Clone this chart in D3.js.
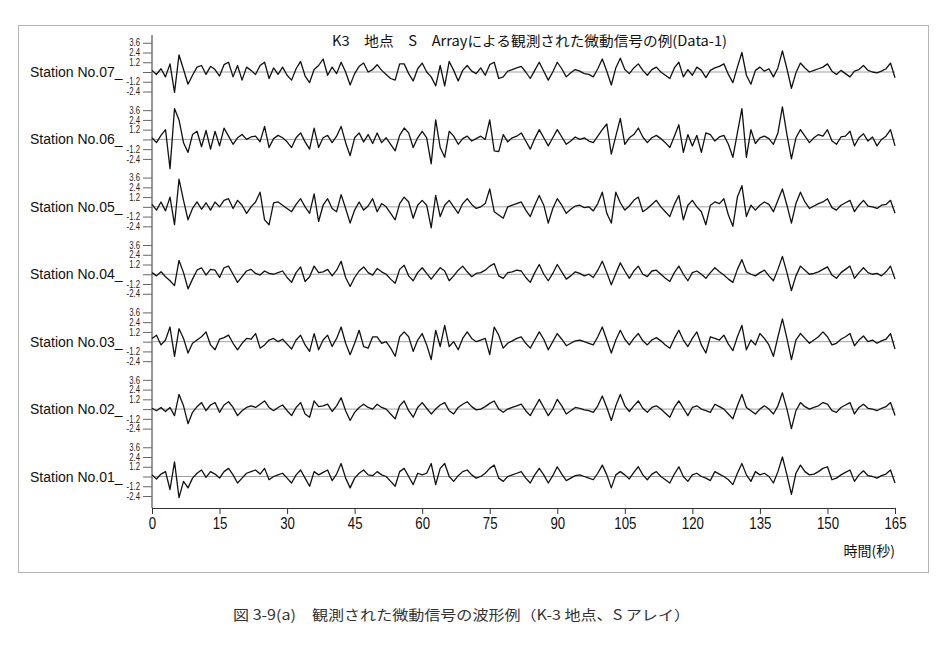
<!DOCTYPE html>
<html>
<head>
<meta charset="utf-8">
<script src="https://cdn.jsdelivr.net/npm/d3@7"></script>
<style>
body { margin: 0; background: #fff; }
</style>
</head>
<body>
<svg id="screen" width="950" height="660"></svg>
<script>
// Stations, top to bottom
var stations = ["Station No.07", "Station No.06", "Station No.05", "Station No.04",
                "Station No.03", "Station No.02", "Station No.01"];
var ampTicks = [3.6, 2.4, 1.2, 0, -1.2, -2.4];
var timeTicks = [0, 15, 30, 45, 60, 75, 90, 105, 120, 135, 150, 165];
var dt = 1; // sampling interval (s)

// Waveforms, one value per second (0..165 s)
var st07 = [
 0.2,-0.3,0.4,-0.6,1.0,-2.5,2.1,0.3,-1.5,-0.4,0.6,0.8,-0.3,0.7,0.3,
 -0.5,0.9,1.2,-0.6,0.8,-1.0,0.6,0.2,-0.3,0.8,1.2,-0.8,0.5,-0.3,0.6,
 -0.4,-1.0,0.4,1.3,-0.5,-1.3,0.3,0.8,1.6,-0.4,0.6,-0.2,1.2,0.0,-1.6,
 -0.2,0.7,1.1,0.0,0.3,0.9,0.2,-0.3,-0.8,-1.0,1.0,1.0,-0.2,-1.1,0.4,
 1.1,0.0,-0.6,-1.7,0.8,-1.7,1.3,0.2,-1.1,0.2,0.8,0.1,-0.2,0.5,-0.4,
 0.9,1.2,-0.8,-0.6,0.1,0.3,0.5,0.7,0.0,-0.8,0.2,1.2,0.1,-1.0,0.0,
 1.2,0.4,-0.6,-0.1,0.3,0.1,-0.2,-0.3,-0.6,0.4,1.6,0.1,-1.6,0.5,1.7,
 0.3,-0.2,0.5,1.0,0.2,-0.4,0.3,0.6,0.0,-0.4,-0.8,0.5,1.2,-0.6,0.3,
 -0.4,0.6,0.2,-0.7,0.2,0.5,0.7,1.0,-0.3,-1.3,0.6,2.4,-0.4,-1.5,0.2,
 0.6,0.1,0.4,-0.6,0.5,2.6,0.4,-2.0,-0.1,1.1,0.5,0.0,0.2,0.4,0.6,
 1.0,0.1,-0.3,0.2,-0.2,-0.6,0.1,0.3,0.8,0.2,0.0,-0.1,0.1,0.4,1.1,-0.7
];
var st06 = [
 0.2,-0.4,0.5,1.2,-3.6,3.8,2.4,-0.4,-1.6,0.6,1.0,-0.9,1.1,-1.2,1.0,
 -0.8,1.4,0.4,-0.6,0.2,0.6,0.0,0.3,0.4,-0.3,1.6,-1.0,0.1,0.5,0.2,
 -0.3,-1.0,0.2,0.8,-0.3,-1.2,1.4,-1.0,0.2,0.5,-0.4,0.4,1.6,-0.4,-2.0,
 0.2,0.8,-0.3,0.6,-0.5,0.8,-0.4,0.2,-0.6,-1.4,0.5,1.4,0.8,-1.0,0.2,
 1.0,0.2,-3.0,2.4,-1.0,-2.2,1.0,0.4,-0.6,0.1,0.4,-0.2,0.1,0.4,0.0,
 2.4,-1.4,-1.5,0.6,-0.3,0.2,0.4,0.8,-0.2,-1.2,0.1,1.2,0.2,-0.8,0.2,
 1.2,0.3,-0.6,-0.2,0.3,0.0,0.2,-0.2,-0.4,0.4,1.2,1.9,-1.8,0.4,2.6,
 -0.6,0.2,0.6,1.4,0.3,-0.4,0.2,0.5,0.1,-0.4,-1.0,0.4,1.8,-1.6,0.6,
 -0.8,0.5,-1.6,0.8,0.6,-0.2,0.3,0.5,-0.6,-2.2,0.8,3.8,-2.2,1.2,-0.5,
 0.2,0.4,0.1,-0.6,0.8,4.0,0.6,-2.4,0.2,1.2,0.4,-0.4,0.2,0.6,0.4,
 1.2,-0.2,-0.6,0.3,0.4,1.0,-0.8,0.2,0.7,-0.2,0.3,-0.8,0.0,0.4,1.2,-0.8
];
var st05 = [
 0.3,-0.4,0.6,-0.5,1.2,-2.2,3.4,0.8,-1.6,-0.2,0.6,-0.3,0.5,-0.4,0.6,
 0.0,0.8,1.0,-0.2,0.8,0.2,-0.8,0.0,0.6,1.8,-1.6,-2.2,0.5,0.6,0.2,
 -0.2,-0.6,0.3,1.0,0.0,-0.8,1.6,-1.8,0.2,1.0,-0.2,-0.6,1.5,-0.2,-2.0,
 -0.4,0.6,-0.4,0.1,1.0,-0.6,0.4,0.0,-0.8,-1.6,0.4,1.2,0.6,-1.4,0.2,
 0.8,0.2,-2.6,1.4,-1.2,0.2,0.8,0.0,-0.8,0.4,1.0,0.3,-0.2,0.0,0.4,
 2.2,-0.6,-1.0,-1.4,0.0,0.2,0.4,0.6,-0.4,-1.2,0.2,1.4,0.2,-2.0,-0.2,
 1.0,0.2,-0.8,-0.3,0.1,0.2,-0.1,0.0,-0.5,0.4,1.8,-0.8,-2.0,1.8,0.5,
 -0.4,0.1,0.8,1.2,-0.6,-0.2,0.3,0.8,0.0,-0.6,-1.2,0.3,1.4,-1.6,0.2,
 0.8,0.0,-0.6,-2.2,0.2,0.6,0.4,1.0,-1.0,-2.4,1.2,2.6,-1.2,0.2,-0.4,
 0.2,0.6,0.3,-0.6,0.8,2.2,0.2,-2.0,0.4,1.8,0.6,-0.2,0.1,0.4,0.6,
 1.0,-0.1,-0.4,0.2,0.5,0.8,-0.6,0.2,0.8,0.1,0.0,-0.2,0.2,0.3,0.8,-0.8
];
var st04 = [
 0.2,-0.2,0.3,-0.3,-0.8,-1.4,1.7,0.2,-1.8,-0.6,0.5,0.8,-0.1,0.6,0.5,
 -0.4,0.8,1.0,0.0,-1.0,-0.3,0.4,0.6,0.1,-0.1,0.4,0.1,0.0,0.2,0.4,
 -0.4,-1.0,0.2,0.9,-0.9,-0.3,1.0,0.2,0.3,0.6,-0.2,0.5,1.6,-0.4,-1.5,
 -0.4,0.4,0.9,0.2,-0.1,0.7,0.3,0.0,-0.6,-1.1,0.6,1.1,-0.2,-0.8,0.2,
 0.8,0.1,-0.6,0.1,0.8,0.4,-0.8,-0.2,0.5,1.0,0.3,-0.3,0.1,0.2,0.5,
 1.0,1.3,-0.2,-0.5,0.2,0.3,0.5,0.4,-0.4,-1.0,0.2,1.2,0.0,-0.8,0.1,
 1.2,0.3,-0.6,-0.2,0.3,0.1,-0.2,0.0,-0.4,0.5,1.6,0.2,-1.3,0.1,1.4,
 0.4,-0.5,0.4,1.0,0.0,-0.3,0.4,0.5,0.0,-0.5,-0.9,0.2,1.0,0.0,-0.8,
 0.2,0.4,0.0,-0.5,0.2,0.8,0.3,-0.1,-0.6,-1.0,0.6,1.8,0.3,0.0,-0.2,
 0.2,0.5,-0.2,-0.8,0.6,2.2,0.2,-2.0,-0.2,1.0,0.5,0.0,0.1,0.3,0.6,
 0.9,-0.1,-0.5,0.2,0.6,1.0,-0.5,0.2,0.8,0.2,0.0,0.1,-0.2,0.3,1.0,-0.6
];
var st03 = [
 0.4,0.8,-0.4,0.2,1.8,-1.8,1.6,0.4,-1.4,-0.2,0.2,0.6,1.2,-0.4,-1.0,
 0.3,0.5,0.8,-0.2,-1.0,-0.2,0.4,0.3,1.0,-0.8,-0.4,0.2,0.4,0.0,0.3,
 -0.3,-0.9,0.2,0.8,-0.4,-1.2,1.0,-1.0,0.2,0.8,-0.6,0.4,1.8,-0.2,-1.6,
 -0.2,1.4,-0.6,-0.8,0.6,0.6,-0.2,0.0,-0.8,-1.8,0.6,1.2,0.6,-1.2,0.2,
 1.0,-0.4,-2.2,1.4,-0.6,2.0,-0.6,0.0,-1.0,0.4,1.2,0.4,0.0,0.2,0.4,
 -1.6,1.8,0.8,-0.8,-0.2,0.1,0.4,0.6,-0.2,-0.8,0.2,1.2,0.3,-1.0,0.0,
 1.0,0.3,-0.5,-0.2,0.1,0.2,0.0,-0.2,-0.4,0.6,1.8,0.2,-1.4,0.2,1.4,
 0.3,-0.4,0.4,1.0,0.1,-0.4,0.2,0.5,0.1,-0.4,-0.8,0.4,1.4,0.2,-0.6,
 0.4,1.2,-0.4,-1.4,0.6,0.4,0.2,0.8,-0.3,-1.1,0.6,2.0,-1.0,0.2,-0.4,
 1.0,0.4,-0.4,-1.8,0.6,2.8,0.4,-2.2,0.2,1.0,0.4,-0.2,0.2,0.6,1.2,
 0.6,-0.4,-0.2,0.3,0.6,1.0,-0.5,0.2,0.7,0.0,0.2,-0.2,0.1,0.3,1.0,-0.9
];
var st02 = [
 0.1,-0.2,0.2,-0.3,0.2,-0.8,1.8,0.4,-1.8,-0.4,0.3,0.8,-0.2,0.5,0.8,
 -0.4,0.5,0.9,0.2,-0.8,-0.2,0.2,0.4,0.2,0.6,1.0,0.2,-0.2,0.2,0.5,
 -0.2,-0.8,0.2,0.8,-0.6,-1.0,1.0,0.3,0.4,0.6,-0.3,0.4,1.4,-0.2,-1.4,
 -0.4,0.2,0.6,0.2,0.0,0.6,0.2,0.0,-0.6,-1.2,0.4,1.0,-0.2,-1.0,0.2,
 0.8,0.1,-0.6,0.0,0.5,0.8,-0.2,-0.6,0.2,0.6,0.9,0.3,-0.1,0.0,0.3,
 0.7,1.0,0.0,-0.4,0.0,0.2,0.4,0.6,-0.2,-0.8,0.2,1.2,0.2,-0.8,0.0,
 1.2,0.4,-0.6,-0.2,0.2,0.1,-0.1,-0.2,-0.4,0.4,1.6,0.2,-1.4,0.4,1.8,
 0.4,-0.3,0.4,1.0,0.1,-0.4,0.2,0.4,0.0,-0.5,-1.0,0.2,1.0,0.1,-0.8,
 0.2,0.4,0.0,-0.2,-0.4,0.6,0.3,0.0,-0.6,-1.2,0.4,1.8,0.2,-0.2,-0.6,
 0.0,0.4,0.0,-0.6,0.4,2.0,0.0,-2.4,-0.2,0.8,0.3,0.0,0.2,0.4,0.8,
 0.6,-0.2,-0.4,0.2,0.5,0.8,-0.6,0.2,0.6,0.1,0.0,-0.2,0.1,0.3,0.8,-0.8
];
var st01 = [
 0.2,-0.3,0.3,0.6,-1.6,1.8,-2.6,-0.6,-1.4,-0.2,0.4,0.8,-0.1,0.6,0.3,
 -0.2,0.6,1.0,0.2,-0.8,-0.2,0.4,0.6,0.8,0.3,1.0,-0.4,0.0,0.2,0.4,
 -0.2,-0.8,0.2,0.8,-0.2,-1.2,0.6,0.2,0.5,0.8,-0.5,0.3,1.6,-0.2,-1.4,
 -0.2,0.4,0.8,0.2,0.1,0.6,0.2,0.0,-0.6,-1.2,0.6,1.0,0.0,-1.0,0.4,
 0.2,0.4,1.6,-1.0,1.0,1.6,0.0,-0.6,0.1,0.6,0.8,0.2,-0.2,0.0,0.4,
 1.0,1.4,-0.2,-0.6,0.0,0.2,0.4,0.6,-0.2,-0.8,0.2,1.0,0.2,-0.8,0.1,
 1.2,0.3,-0.5,-0.2,0.1,0.2,0.0,-0.2,-0.4,0.4,1.4,0.2,-1.4,0.2,0.6,
 0.2,-0.3,0.5,1.2,0.2,-0.4,0.3,0.6,0.0,-0.4,-0.8,0.3,1.2,0.0,-0.6,
 0.2,0.4,0.0,-0.2,-0.5,0.6,0.3,0.0,-0.4,-1.0,0.4,1.6,0.2,-0.6,0.6,
 0.2,0.4,0.0,-0.8,0.6,2.4,0.2,-2.2,0.4,1.4,0.6,0.2,0.3,0.6,1.0,
 1.2,-0.4,-0.2,0.2,0.5,0.8,-0.6,0.2,0.7,0.1,0.0,-0.2,0.1,0.3,0.8,-0.8
];
var series = [st07, st06, st05, st04, st03, st02, st01];

var titleText = "K3\u3000地点\u3000S\u3000Arrayによる観測された微動信号の例(Data-1)";
var xLabel = "時間(秒)";
var caption = "図 3-9(a)\u3000観測された微動信号の波形例（K-3 地点、S アレイ）";

var s = d3.select("#screen");
var sans = "'Liberation Sans', Arial, sans-serif";
var squeeze = 0.78; // narrow look of the tick digits

// Scales
var x = d3.scaleLinear().domain([0, 165]).range([152, 895]);
var row = d3.scalePoint().domain(stations).range([72, 476.5]);
var amp = d3.scaleLinear().domain([0, 1.2]).range([0, -9.75]);

s.append("rect").attr("width", 950).attr("height", 660).attr("fill", "#fff");

// Frame
s.append("rect")
    .attr("x", 18.5).attr("y", 25.5).attr("width", 910).attr("height", 547)
    .attr("fill", "none").attr("stroke", "#b4b4b4").attr("stroke-width", 1);

// Title
s.append("text")
    .attr("x", 332).attr("y", 46)
    .attr("font-family", "'Noto Sans CJK JP', sans-serif").attr("font-size", 14)
    .attr("textLength", 395).attr("lengthAdjust", "spacingAndGlyphs")
    .attr("fill", "#111")
    .text(titleText);

// Vertical axis line
s.append("line")
    .attr("x1", x(0)).attr("x2", x(0)).attr("y1", 35).attr("y2", 508)
    .attr("stroke", "#333").attr("stroke-width", 1);

// Traces
stations.forEach(function(name, i) {
    var g = s.append("g").attr("transform", "translate(0," + row(name) + ")");

    g.append("line")
        .attr("x1", x(0)).attr("x2", x(165)).attr("y1", 0).attr("y2", 0)
        .attr("stroke", "#888").attr("stroke-width", 0.8);

    var ax = d3.axisLeft(amp).tickValues(ampTicks).tickSize(9).tickPadding(3)
        .tickFormat(function(d) { return d === 0 ? "" : d.toFixed(1); });
    var ag = g.append("g").attr("transform", "translate(" + x(0) + ",0)").call(ax);
    ag.select(".domain").remove();
    ag.selectAll("line").attr("stroke", "#666");
    ag.selectAll("text")
        .attr("font-family", sans).attr("font-size", 10).attr("fill", "#222")
        .attr("x", -12 / squeeze).attr("transform", "scale(" + squeeze + ",1)");

    g.append("text")
        .attr("x", 30).attr("y", 5)
        .attr("font-family", sans).attr("font-size", 14)
        .attr("fill", "#111")
        .text(name + "_");

    var line = d3.line()
        .x(function(d, j) { return x(j * dt); })
        .y(function(d) { return amp(d); });
    g.append("path").datum(series[i])
        .attr("d", line)
        .attr("fill", "none").attr("stroke", "#111").attr("stroke-width", 1.3)
        .attr("stroke-linejoin", "round");
});

// Time axis
var xa = d3.axisBottom(x).tickValues(timeTicks).tickSize(6).tickSizeOuter(0).tickPadding(3);
var xg = s.append("g").attr("transform", "translate(0,508)").call(xa);
xg.select(".domain").attr("stroke", "#333");
xg.selectAll("line").attr("stroke", "#333");
xg.selectAll("text")
    .attr("font-family", sans).attr("font-size", 17).attr("fill", "#111")
    .attr("transform", "scale(" + squeeze + ",1)");

s.append("text")
    .attr("x", 895).attr("y", 556).attr("text-anchor", "end")
    .attr("font-family", "'Noto Sans CJK JP', sans-serif").attr("font-size", 14)
    .attr("fill", "#111")
    .text(xLabel);

// Caption
s.append("text")
    .attr("x", 233).attr("y", 620)
    .attr("font-family", "'Noto Sans CJK JP', sans-serif").attr("font-size", 14)
    .attr("textLength", 457).attr("lengthAdjust", "spacingAndGlyphs")
    .attr("fill", "#333")
    .text(caption);
</script>
</body>
</html>
